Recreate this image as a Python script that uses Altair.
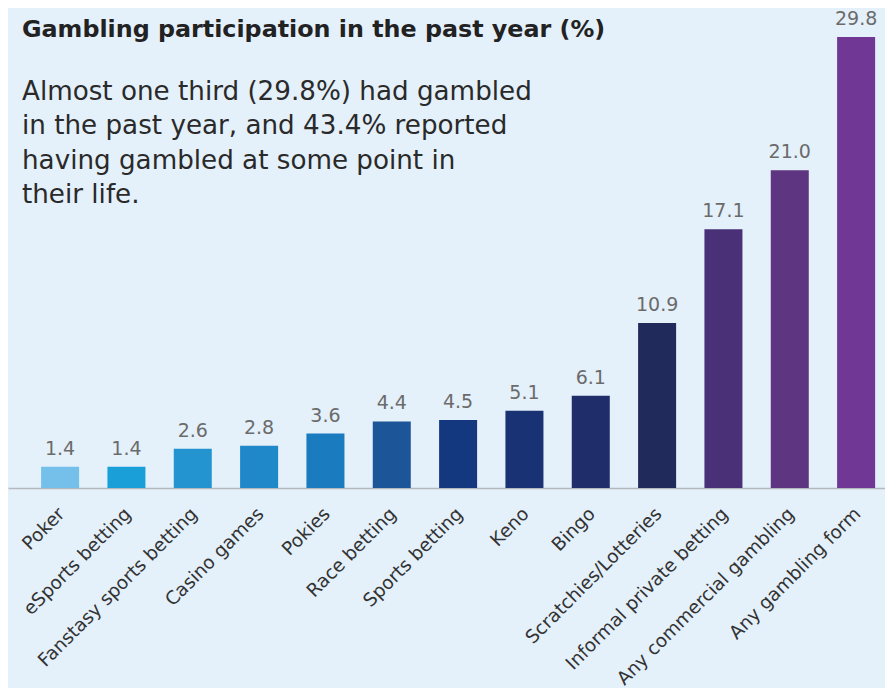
import altair as alt
import pandas as pd

categories = ["Poker", "eSports betting", "Fanstasy sports betting", "Casino games", "Pokies",
              "Race betting", "Sports betting", "Keno", "Bingo", "Scratchies/Lotteries",
              "Informal private betting", "Any commercial gambling", "Any gambling form"]
values = [1.4, 1.4, 2.6, 2.8, 3.6, 4.4, 4.5, 5.1, 6.1, 10.9, 17.1, 21.0, 29.8]
colors = ["#74C0EA", "#1B9FD9", "#2494D0", "#1E88C8", "#1A7BBE", "#1C5698", "#13387F",
          "#193273", "#1F2E6A", "#202B5C", "#4A3077", "#5E3580", "#713794"]

title_text = "Gambling participation in the past year (%)"
subtitle_lines = ["Almost one third (29.8%) had gambled",
                  "in the past year, and 43.4% reported",
                  "having gambled at some point in",
                  "their life."]

FONT = "DejaVu Sans"

df = pd.DataFrame({"cat": categories, "val": values, "col": colors,
                   "lbl": [f"{v:.1f}" for v in values]})

x = alt.X("cat:N", sort=categories, title=None,
          scale=alt.Scale(paddingInner=0.427, paddingOuter=0.324, align=0.77),
          axis=alt.Axis(labelAngle=-45, labelFontSize=18.5, labelColor="#333333",
                        labelFont=FONT, ticks=False, domainColor="#B5B8BE",
                        domainWidth=1.5, labelPadding=16, labelOffset=-5,
                        labelLimit=400))
y = alt.Y("val:Q", title=None, scale=alt.Scale(domain=[0, 31.72], nice=False),
          axis=None)

bars = alt.Chart(df).mark_bar().encode(x=x, y=y, color=alt.Color("col:N", scale=None))
labels = alt.Chart(df).mark_text(font=FONT, fontSize=19, color="#6B6B6B", dy=-12,
                                 baseline="alphabetic").encode(x=x, y=y, text="lbl:N")

title = alt.Chart(pd.DataFrame({"t": [title_text]})).mark_text(
    font=FONT, fontSize=23.8, fontWeight="bold", color="#222222", align="left",
    baseline="alphabetic").encode(x=alt.value(14), y=alt.value(29), text="t:N")

sub = alt.Chart(pd.DataFrame({"t": [subtitle_lines]})).mark_text(
    font=FONT, fontSize=26.2, color="#2A2A2A", align="left", baseline="alphabetic",
    lineHeight=34.3).encode(x=alt.value(14), y=alt.value(92), text="t")

chart = alt.layer(bars, labels, title, sub).properties(
    width=877, height=480, padding=0, background="#E4F0FA"
).configure_view(stroke=None)

chart.save("out.html", embed_options={"renderer": "svg", "actions": False})
